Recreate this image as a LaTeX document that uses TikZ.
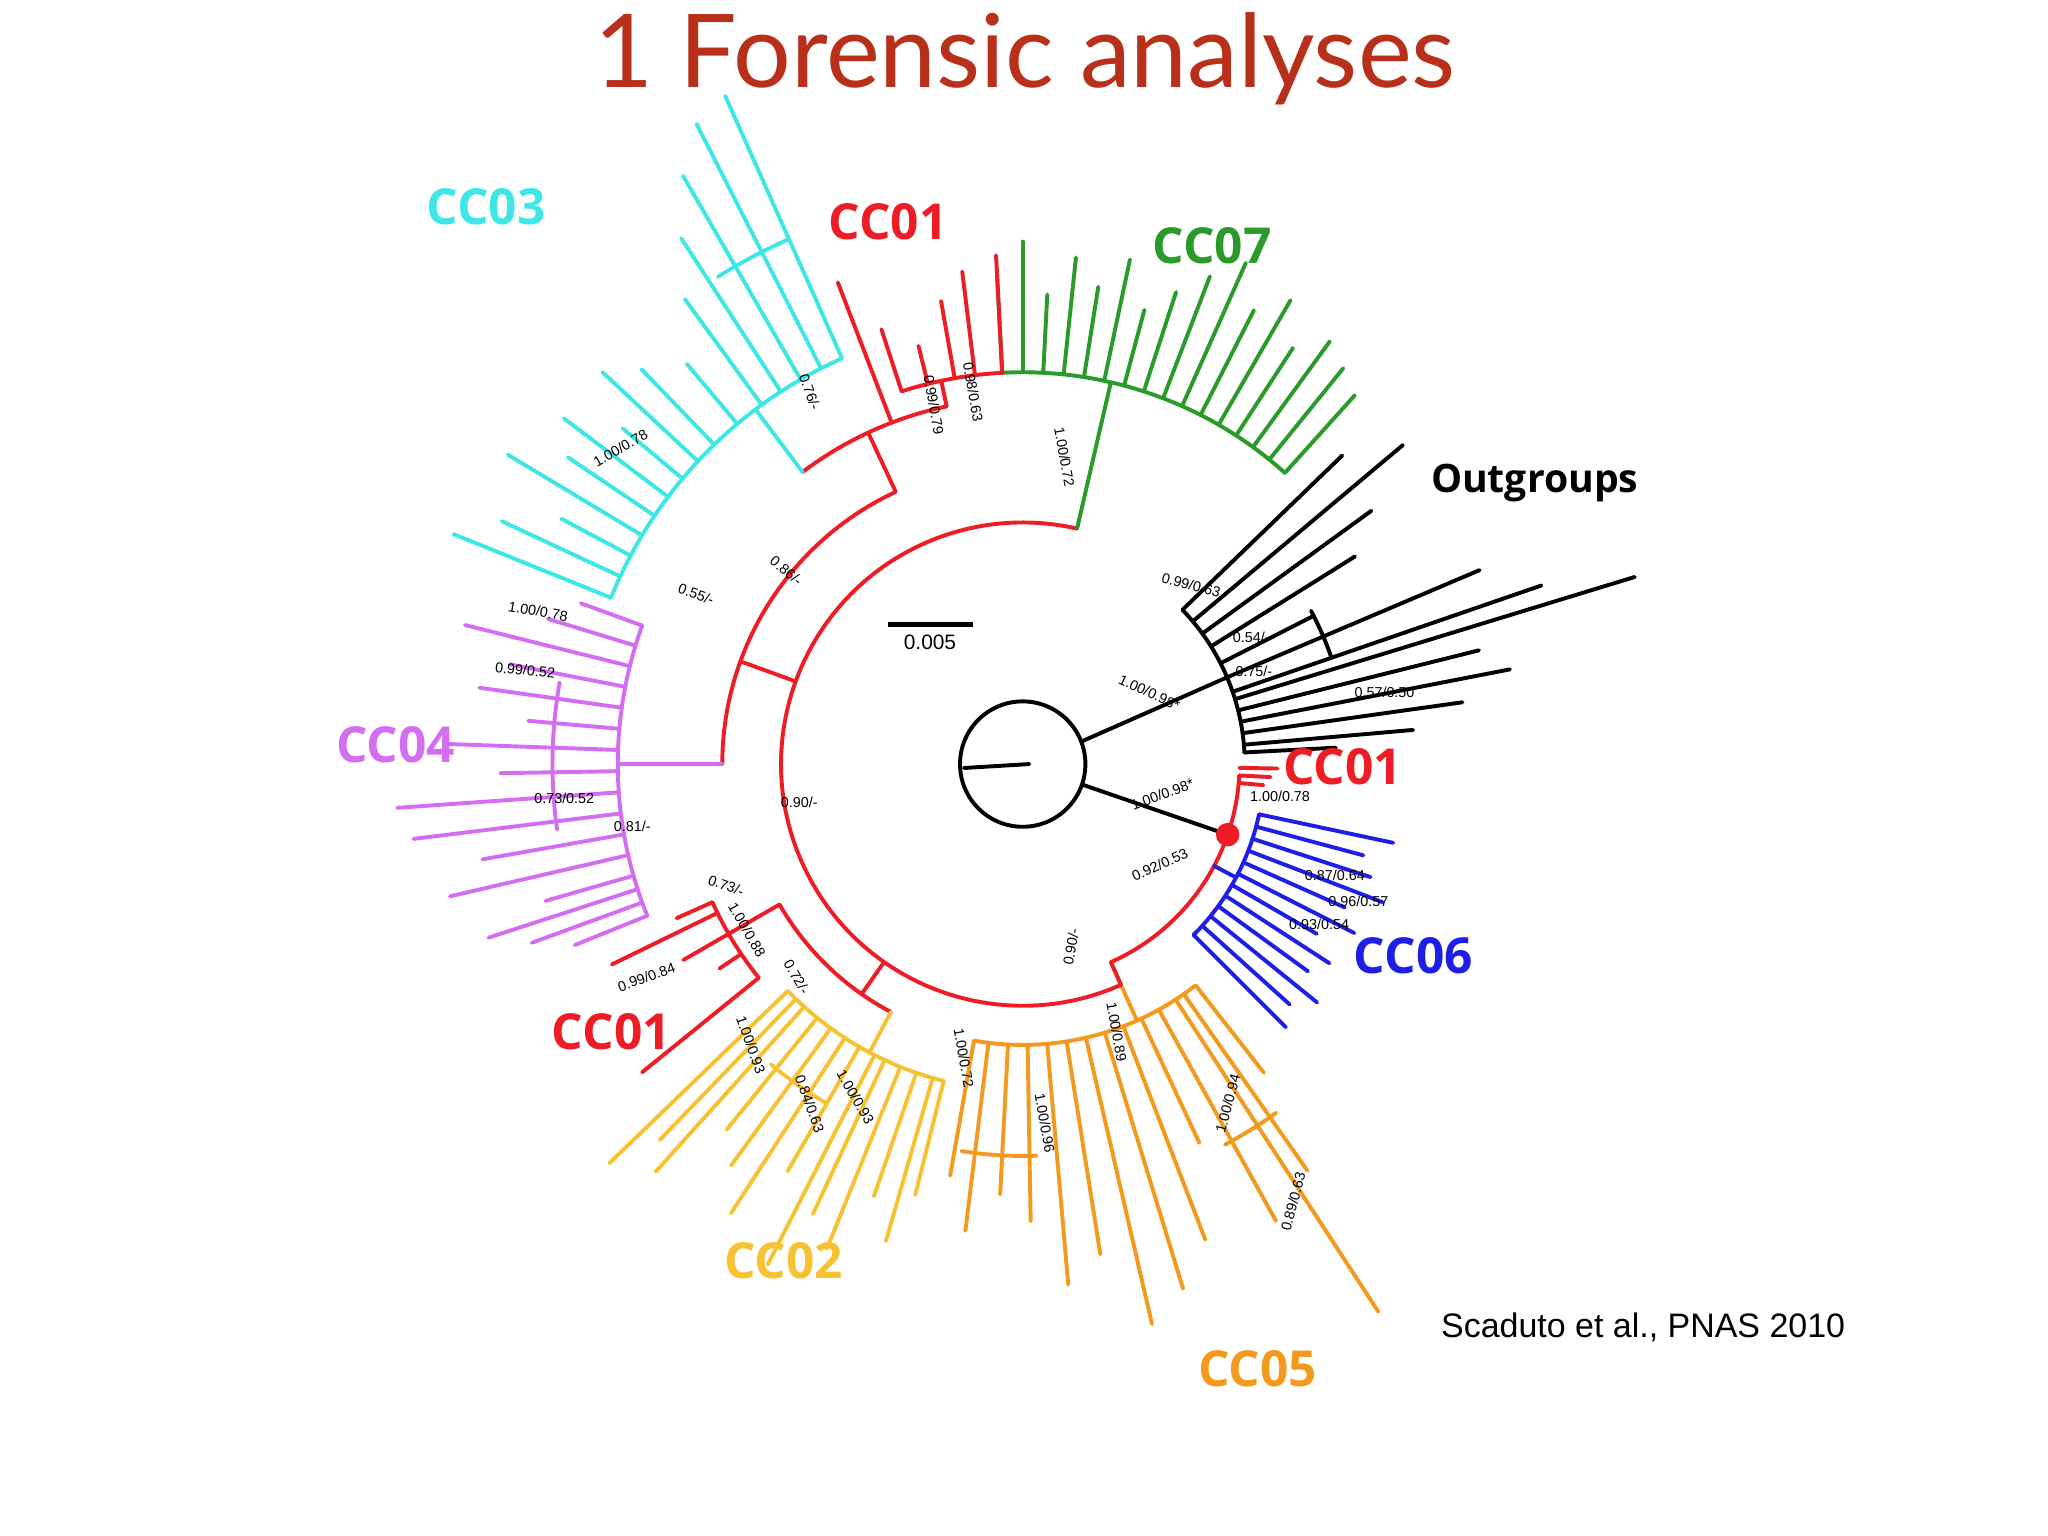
\documentclass[tikz,border=0pt]{standalone}
\usepackage{fontspec}
\setmainfont{Open Sans}
\newfontfamily\titlefont{Lato}
\newfontfamily\citefont{Liberation Sans}
\begin{document}
\begin{tikzpicture}[x=0.5pt,y=-0.5pt,
  br/.style={line width=1.5pt,line cap=round},
  sv/.style={font=\citefont\fontsize{5.5}{5.5}\selectfont,inner sep=0pt},
  clade/.style={font=\bfseries\fontsize{19}{19}\selectfont,inner sep=0pt}]
\definecolor{cred}{HTML}{EE1C24}
\definecolor{ccyan}{HTML}{3EE6E6}
\definecolor{cgreen}{HTML}{2A9A2A}
\definecolor{cmag}{HTML}{D46EF0}
\definecolor{cyel}{HTML}{F6C232}
\definecolor{corg}{HTML}{F39A1E}
\definecolor{cblue}{HTML}{1E1EE6}
\definecolor{ctitle}{HTML}{B8301A}
\useasboundingbox (0,0) rectangle (1568,1176);
\node[font=\titlefont\fontsize{39}{39}\selectfont,text=ctitle] (title) at (785,45) {1 Forensic analyses};
\node[font=\citefont\fontsize{13}{13}\selectfont] (cite) at (1258,1016) {Scaduto et al., PNAS 2010};
\begin{scope}[shift={(783,585)}]
% root
\draw[br,black] (0,0) circle[radius=48];
\draw[br,black] (-45,3) -- (5,0);
\draw[br,black] (-21:48) -- (-23:170);
\draw[br,black] (19:48) -- (19:166);
% outgroups
\draw[br,black] (-44:170) arc[start angle=-44,end angle=-3,radius=170];
\foreach \a/\l in {-44/340,-40/380,-36/330,-32/300,-27/250,-23/380,-19/420,-17/490,-14/360,-11/380,-8/340,-5/300,-3/240}
  \draw[br,black] (\a:170) -- (\a:\l);
\draw[br,black] (-28:250) arc[start angle=-28,end angle=-19,radius=250];
% red arc from dot
\draw[br,cred] (3:166) arc[start angle=3,end angle=66,radius=166];
\foreach \a/\l in {1/195,3/190,5/185} \draw[br,cred] (\a:166) -- (\a:\l);
% CC06
\draw[br,cblue] (28:166) -- (28:185);
\draw[br,cblue] (12:185) arc[start angle=12,end angle=45,radius=185];
\foreach \a/\l in {12/290,15/270,18/280,21/295,24/270,27/285,30/260,33/280,36/270,39/290,42/275,45/285}
  \draw[br,cblue] (\a:185) -- (\a:\l);
\fill[cred] (19:166) circle[radius=9];
% CC05
\draw[br,corg] (66:166) -- (66:215);
\draw[br,corg] (52:215) arc[start angle=52,end angle=100,radius=215];
\foreach \a/\l in {52/300,55/380,57/500,61/400,65/320,69/390,73/420,77/440,81/380,85/400,89/350,93/330,97/360,100/320}
  \draw[br,corg] (\a:215) -- (\a:\l);
\draw[br,corg] (54:330) arc[start angle=54,end angle=62,radius=330];
\draw[br,corg] (88:300) arc[start angle=88,end angle=99,radius=300];
% main red arc
\draw[br,cred] (66:166) -- (66:185);
\draw[br,cred] (66:185) arc[start angle=66,end angle=283,radius=185];
% CC07
\draw[br,cgreen] (283:185) -- (283:300);
\draw[br,cgreen] (267:300) arc[start angle=267,end angle=312,radius=300];
\foreach \a/\l in {267/380,270/400,273/360,276/390,279/370,282/395,285/360,288/380,291/400,294/420,297/390,300/410,303/380,306/400,309/390,312/380}
  \draw[br,cgreen] (\a:300) -- (\a:\l);
% lower branch to CC02 / CC01
\draw[br,cred] (125:185) -- (125:215);
\draw[br,cred] (118:215) arc[start angle=118,end angle=150,radius=215];
\draw[br,cyel] (118:215) -- (118:250);
\draw[br,cyel] (104:250) arc[start angle=104,end angle=136,radius=250];
\foreach \a/\l in {104/340,106/380,109/350,112/400,115/380,117/430,120/360,123/410,126/380,129/360,132/420,134/400,136/440}
  \draw[br,cyel] (\a:250) -- (\a:\l);
\draw[br,cyel] (120:300) arc[start angle=120,end angle=130,radius=300];
\draw[br,cred] (150:215) -- (150:260);
\draw[br,cred] (141:260) arc[start angle=141,end angle=156,radius=260];
\foreach \a/\l in {141/375,146/280,150/300,154/350,156/290}
  \draw[br,cred] (\a:260) -- (\a:\l);
% upper branch to CC04 / CC03 / CC01
\draw[br,cred] (200:185) -- (200:230);
\draw[br,cred] (180:230) arc[start angle=180,end angle=245,radius=230];
\draw[br,cmag] (180:230) -- (180:310);
\draw[br,cmag] (158:310) arc[start angle=158,end angle=200,radius=310];
\foreach \a/\l in {158/370,160/400,162/430,164/380,167/450,170/420,173/470,176/480,179/400,182/440,185/380,188/420,191/400,194/440,197/380,200/360}
  \draw[br,cmag] (\a:310) -- (\a:\l);
\draw[br,cmag] (172:360) arc[start angle=172,end angle=190,radius=360];
\draw[br,cred] (245:230) -- (245:280);
\draw[br,cred] (233:280) arc[start angle=233,end angle=258,radius=280];
\draw[br,ccyan] (233:280) -- (233:340);
\draw[br,ccyan] (202:340) arc[start angle=202,end angle=246,radius=340];
\foreach \a/\l in {202/470,205/440,208/400,211/460,214/420,217/440,220/400,223/440,226/420,230/400,234/440,237/480,240/520,243/550,246/560}
  \draw[br,ccyan] (\a:340) -- (\a:\l);
\draw[br,ccyan] (238:440) arc[start angle=238,end angle=246,radius=440];
\draw[br,cred] (249:280) -- (249:395);
\draw[br,cred] (258:280) -- (258:300);
\draw[br,cred] (252:300) arc[start angle=252,end angle=267,radius=300];
\foreach \a/\l in {252/350,256/330,260/360,263/380,267/390}
  \draw[br,cred] (\a:300) -- (\a:\l);
\end{scope}
% scale bar
\draw[line width=2pt] (680,478) -- (745,478);
\node[sv,font=\citefont\fontsize{8}{8}\selectfont] (sb) at (712,492) {0.005};
% support values
\node[sv,rotate=-25] (s1) at (880,530) {1.00/0.98*};
\node[sv,rotate=20] (s2) at (890,608) {1.00/0.98*};
\node[sv] (s3) at (612,614) {0.90/-};
\node[sv,rotate=-20] (s4) at (533,455) {0.55/-};
\node[sv,rotate=-40] (s5) at (602,437) {0.86/-};
\node[sv,rotate=-20] (s6) at (556,678) {0.73/-};
\node[sv] (s7) at (484,633) {0.81/-};
\node[sv,rotate=-70] (s8) at (620,300) {0.76/-};
\node[sv,rotate=-80] (s9) at (815,350) {1.00/0.72};
\node[sv,rotate=25] (s10) at (888,662) {0.92/0.53};
\node[sv,rotate=30] (s11) at (475,343) {1.00/0.78};
\node[sv,rotate=-10] (s12) at (412,468) {1.00/0.78};
\node[sv,rotate=-5] (s13) at (402,513) {0.99/0.52};
\node[sv] (s14) at (432,611) {0.73/0.52};
\node[sv,rotate=20] (s15) at (495,748) {0.99/0.84};
\node[sv,rotate=-60] (s16) at (572,712) {1.00/0.88};
\node[sv,rotate=-60] (s17) at (610,748) {0.72/-};
\node[sv,rotate=-70] (s18) at (575,800) {1.00/0.93};
\node[sv,rotate=-80] (s19) at (738,810) {1.00/0.72};
\node[sv,rotate=-80] (s20) at (715,310) {0.99/0.79};
\node[sv,rotate=-80] (s21) at (745,300) {0.98/0.63};
\node[sv,rotate=-15] (s22) at (912,448) {0.99/0.63};
\node[sv] (s23) at (958,488) {0.54/-};
\node[sv] (s24) at (960,514) {0.75/-};
\node[sv] (s25) at (1060,530) {0.57/0.50};
\node[sv] (s26) at (1022,670) {0.87/0.64};
\node[sv] (s27) at (1040,690) {0.96/0.57};
\node[sv] (s28) at (1010,708) {0.93/0.54};
\node[sv] (s29) at (980,610) {1.00/0.78};
\node[sv,rotate=80] (s30) at (820,725) {0.90/-};
\node[sv,rotate=-80] (s31) at (855,790) {1.00/0.89};
\node[sv,rotate=75] (s32) at (940,845) {1.00/0.94};
\node[sv,rotate=75] (s33) at (990,920) {0.89/0.63};
\node[sv,rotate=-80] (s34) at (800,860) {1.00/0.96};
\node[sv,rotate=-60] (s35) at (655,840) {1.00/0.93};
\node[sv,rotate=-70] (s36) at (620,845) {0.84/0.63};
% clade labels
\node[clade,text=ccyan] (l1) at (372,158) {CC03};
\node[clade,text=cred] (l2) at (680,170) {CC01};
\node[clade,text=cgreen] (l3) at (928,188) {CC07};
\node[clade,text=black,font=\bfseries\fontsize{15}{15}\selectfont] (l4) at (1175,370) {Outgroups};
\node[clade,text=cred] (l5) at (1028,587) {CC01};
\node[clade,text=cblue] (l6) at (1082,732) {CC06};
\node[clade,text=corg] (l7) at (963,1048) {CC05};
\node[clade,text=cyel] (l8) at (600,965) {CC02};
\node[clade,text=cred] (l9) at (468,790) {CC01};
\node[clade,text=cmag] (l10) at (303,570) {CC04};
\end{tikzpicture}
\end{document}
